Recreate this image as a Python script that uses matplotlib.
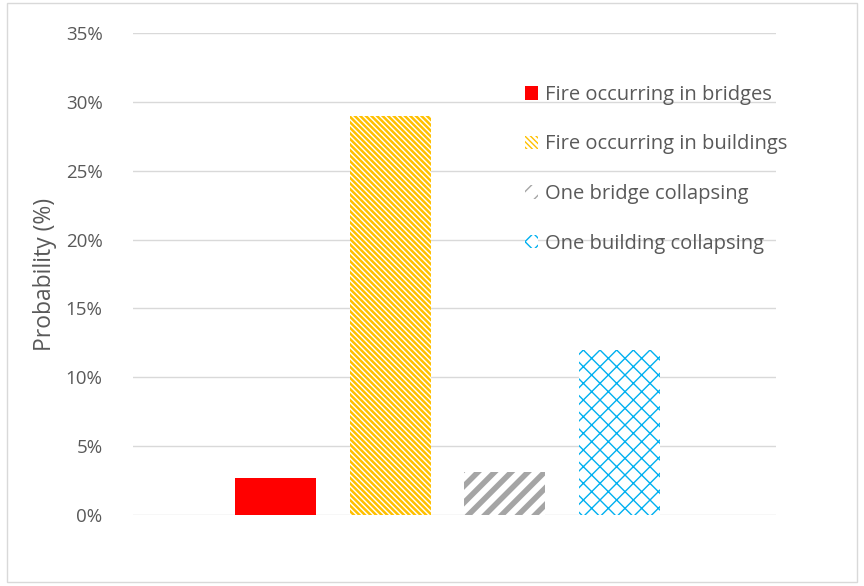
import matplotlib
matplotlib.use("Agg")
import matplotlib.pyplot as plt
from matplotlib.patches import Rectangle
from matplotlib.ticker import FuncFormatter

series = ["Fire occurring in bridges", "Fire occurring in buildings",
          "One bridge collapsing", "One building collapsing"]
values = [2.7, 29.0, 3.1, 12.0]
colors = ["#FF0000", "#FFC000", "#A5A5A5", "#00B0F0"]
hatches = [None, "\\" * 6, "//", "xx"]
hatch_lw = [1.0, 1.8, 4.0, 1.0]
yticks = [0, 5, 10, 15, 20, 25, 30, 35]

plt.rcParams['font.family'] = ['Open Sans', 'DejaVu Sans']
fig = plt.figure(figsize=(8.64, 5.86), dpi=100)
fig.patches.append(Rectangle((0.008, 0.007), 0.984, 0.988, transform=fig.transFigure,
                             fill=False, edgecolor="#D9D9D9", lw=1.0))
ax = fig.add_axes([0.154, 0.121, 0.744, 0.8227])

spacing = 0.178
width = 0.126
group_center = -0.011
for i, (s, v, c, h, hl) in enumerate(zip(series, values, colors, hatches, hatch_lw)):
    x = group_center + (i - 1.5) * spacing
    with plt.rc_context({'hatch.linewidth': hl}):
        if h is None:
            ax.bar(x, v, width=width, color=c, label=s, linewidth=0)
        else:
            ax.bar(x, v, width=width, facecolor="white", edgecolor=c, hatch=h,
                   label=s, linewidth=0)

ax.set_xlim(-0.5, 0.5)
ax.set_ylim(0, 35)
ax.set_yticks(yticks)
ax.yaxis.set_major_formatter(FuncFormatter(lambda v, p: f"{int(v)}%"))
ax.set_xticks([])
ax.grid(axis='y', color="#D9D9D9", lw=1.0)
ax.set_axisbelow(True)
for sp in ax.spines.values():
    sp.set_visible(False)
ax.tick_params(axis='y', length=0, pad=22, labelsize=13.5, labelcolor="#595959")
ax.set_ylabel("Probability (%)", fontsize=16.5, color="#595959", labelpad=6)

leg = ax.legend(loc="upper left", bbox_to_anchor=(0.582, 0.93), frameon=False,
                fontsize=14.5, labelcolor="#595959", handlelength=0.65, handleheight=0.65,
                handletextpad=0.35, labelspacing=1.47)

fig.savefig("out.png", dpi=100)
